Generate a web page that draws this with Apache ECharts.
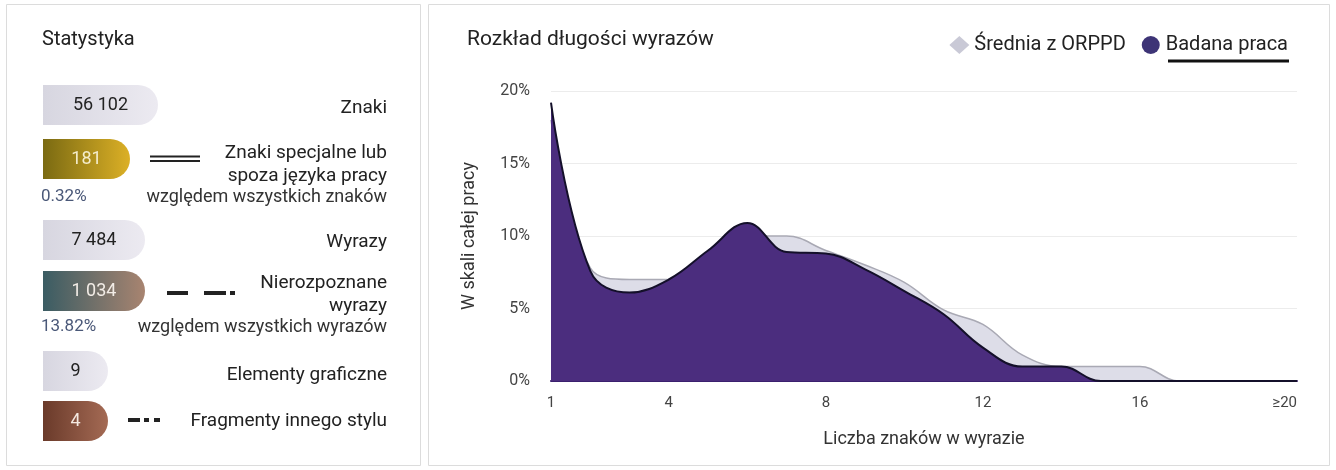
<!DOCTYPE html>
<html>
<head>
<meta charset="utf-8">
<script src="https://cdn.jsdelivr.net/npm/echarts@6/dist/echarts.min.js"></script>
<style>
html,body{margin:0;padding:0;background:#fff;}
#chart{width:1336px;height:470px;}
</style>
</head>
<body>
<div id="chart"></div>
<script>
// ---- chart data ----
const categories = ['1','2','3','4','5','6','7','8','9','10','11','12','13','14','15','16','17','18','19','≥20'];
const shownTicks = ['1','4','8','12','16','≥20'];
const badanaPraca = [19.2, 7.6, 6.1, 7.0, 9.0, 10.9, 8.9, 8.8, 7.7, 6.2, 4.6, 2.3, 1.0, 1.0, 0, 0, 0, 0, 0, 0];
const sredniaORPPD = [18.0, 7.8, 7.0, 7.0, 8.5, 10.0, 10.0, 9.0, 8.0, 6.8, 4.9, 3.9, 1.8, 1.0, 1.0, 1.0, 0, 0, 0, 0];
const seriesNames = ['Średnia z ORPPD', 'Badana praca'];
const yMax = 20, yInterval = 5;

// ---- statistics panel data ----
const statValues = [56102, 181, 7484, 1034, 9, 4];
const statLabels = ['Znaki', 'Znaki specjalne lub\nspoza języka pracy', 'Wyrazy', 'Nierozpoznane\nwyrazy', 'Elementy graficzne', 'Fragmenty innego stylu'];
const statNotes = ['', 'względem wszystkich znaków', '', 'względem wszystkich wyrazów', '', ''];
const statPercents = ['', '0.32%', '', '13.82%', '', ''];

// ---- layout / styles ----
const pillCY = [105, 159, 240, 291, 371, 421];
const pillW = [115, 87, 102, 102, 65, 65];
const pillFills = [
  ['#d7d6e0', '#eceaf1'],
  ['#7a6a12', '#dcb026'],
  ['#d7d6e0', '#eceaf1'],
  ['#3a5c63', '#a88470'],
  ['#d7d6e0', '#eceaf1'],
  ['#6a3a2a', '#a46a54']
];
const pillTextColor = ['#222', '#f4eccb', '#222', '#f2ece6', '#222', '#f4e8e0'];
const labelCY = [108, 164.5, 242, 294.5, 375, 421];
const noteY = [0, 197, 0, 327, 0, 0];
const FONT = 'Roboto, "Noto Sans", sans-serif';

function fmt(n) { return String(n).replace(/\B(?=(\d{3})+(?!\d))/g, ' '); }

const graphic = [];
// cards
graphic.push({type:'rect', shape:{x:6.5, y:4.5, width:414, height:461}, style:{fill:'#fff', stroke:'#dcdcdc', lineWidth:1}, z:-10});
graphic.push({type:'rect', shape:{x:428.5, y:4.5, width:901, height:461}, style:{fill:'#fff', stroke:'#dcdcdc', lineWidth:1}, z:-10});

for (let i = 0; i < statValues.length; i++) {
  const cy = pillCY[i], w = pillW[i];
  graphic.push({
    type:'rect', shape:{x:43, y:cy-20, width:w, height:40, r:[0,20,20,0]},
    style:{fill:{type:'linear', x:0, y:0, x2:1, y2:0, colorStops:[{offset:0,color:pillFills[i][0]},{offset:1,color:pillFills[i][1]}]}}
  });
  graphic.push({
    type:'text', style:{x:43 + w/2, y:cy, text:fmt(statValues[i]), align:'center', verticalAlign:'middle', fill:pillTextColor[i], font:'18px ' + FONT}
  });
  graphic.push({
    type:'text', style:{x:387, y:labelCY[i], text:statLabels[i], align:'right', verticalAlign:'middle', fill:'#222', font:'19px ' + FONT, lineHeight:23}
  });
  if (statNotes[i]) {
    graphic.push({type:'text', style:{x:387, y:noteY[i], text:statNotes[i], align:'right', verticalAlign:'middle', fill:'#333', font:'18px ' + FONT}});
    graphic.push({type:'text', style:{x:41, y:noteY[i], text:statPercents[i], align:'left', verticalAlign:'middle', fill:'#4a5878', font:'17px ' + FONT}});
  }
}
// markers
graphic.push({type:'line', shape:{x1:150, y1:156.5, x2:200, y2:156.5}, style:{stroke:'#222', lineWidth:2}});
graphic.push({type:'line', shape:{x1:150, y1:161, x2:200, y2:161}, style:{stroke:'#222', lineWidth:2}});
graphic.push({type:'line', shape:{x1:167, y1:293, x2:188, y2:293}, style:{stroke:'#222', lineWidth:4}});
graphic.push({type:'line', shape:{x1:204, y1:293, x2:226, y2:293}, style:{stroke:'#222', lineWidth:4}});
graphic.push({type:'line', shape:{x1:230, y1:293, x2:235, y2:293}, style:{stroke:'#222', lineWidth:4}});
graphic.push({type:'line', shape:{x1:128, y1:420, x2:140, y2:420}, style:{stroke:'#222', lineWidth:4}});
graphic.push({type:'line', shape:{x1:144, y1:420, x2:149, y2:420}, style:{stroke:'#222', lineWidth:4}});
graphic.push({type:'line', shape:{x1:154, y1:420, x2:160, y2:420}, style:{stroke:'#222', lineWidth:4}});
// legend underline
graphic.push({type:'line', shape:{x1:1168, y1:61, x2:1289, y2:61}, style:{stroke:'#111', lineWidth:3}});

const chart = echarts.init(document.getElementById('chart'), null, {renderer:'canvas'});
chart.setOption({
  animation:false,
  backgroundColor:'#fff',
  textStyle:{fontFamily:FONT},
  title:[
    {text:'Statystyka', left:37, top:25, textStyle:{fontSize:20, fontWeight:'normal', color:'#222', fontFamily:FONT}},
    {text:'Rozkład długości wyrazów', left:462, top:24, textStyle:{fontSize:21, fontWeight:'normal', color:'#222', fontFamily:FONT}}
  ],
  legend:{
    right:43, top:30, itemWidth:20, itemHeight:18, itemGap:16,
    data:[{name:seriesNames[0], icon:'diamond'}, {name:seriesNames[1], icon:'circle'}],
    textStyle:{fontSize:20, color:'#222', fontFamily:FONT}
  },
  grid:{left:551, right:39, top:91, bottom:89},
  xAxis:{
    type:'category', data:categories, boundaryGap:false,
    name:'Liczba znaków w wyrazie', nameLocation:'middle', nameGap:49,
    nameTextStyle:{fontSize:18, color:'#333'},
    axisLine:{show:true, lineStyle:{color:'#3a1f6e', width:2}},
    axisTick:{show:false},
    axisLabel:{margin:15, color:'#444', fontSize:15, alignMaxLabel:'right', interval:(idx, v) => shownTicks.indexOf(v) >= 0}
  },
  yAxis:{
    type:'value', min:0, max:yMax, interval:yInterval,
    name:'W skali całej pracy', nameLocation:'middle', nameGap:73,
    nameTextStyle:{fontSize:18, color:'#333'},
    axisLine:{show:false}, axisTick:{show:false},
    axisLabel:{formatter:'{value}%', margin:21, color:'#444', fontSize:16},
    splitLine:{lineStyle:{color:'#ececec'}}
  },
  graphic:graphic,
  series:[
    {
      name:seriesNames[0], type:'line', data:sredniaORPPD, smooth:0.4,
      symbol:'diamond', showSymbol:false,
      itemStyle:{color:'#c9c9d6'},
      lineStyle:{color:'#a9a9b4', width:1.5},
      areaStyle:{color:'#dddde8', opacity:1},
      z:2
    },
    {
      name:seriesNames[1], type:'line', data:badanaPraca, smooth:0.4,
      symbol:'circle', showSymbol:false,
      itemStyle:{color:'#3d3476'},
      lineStyle:{color:'#14102a', width:2},
      areaStyle:{color:'#4b2d7e', opacity:1},
      z:3
    }
  ]
});
</script>
</body>
</html>
